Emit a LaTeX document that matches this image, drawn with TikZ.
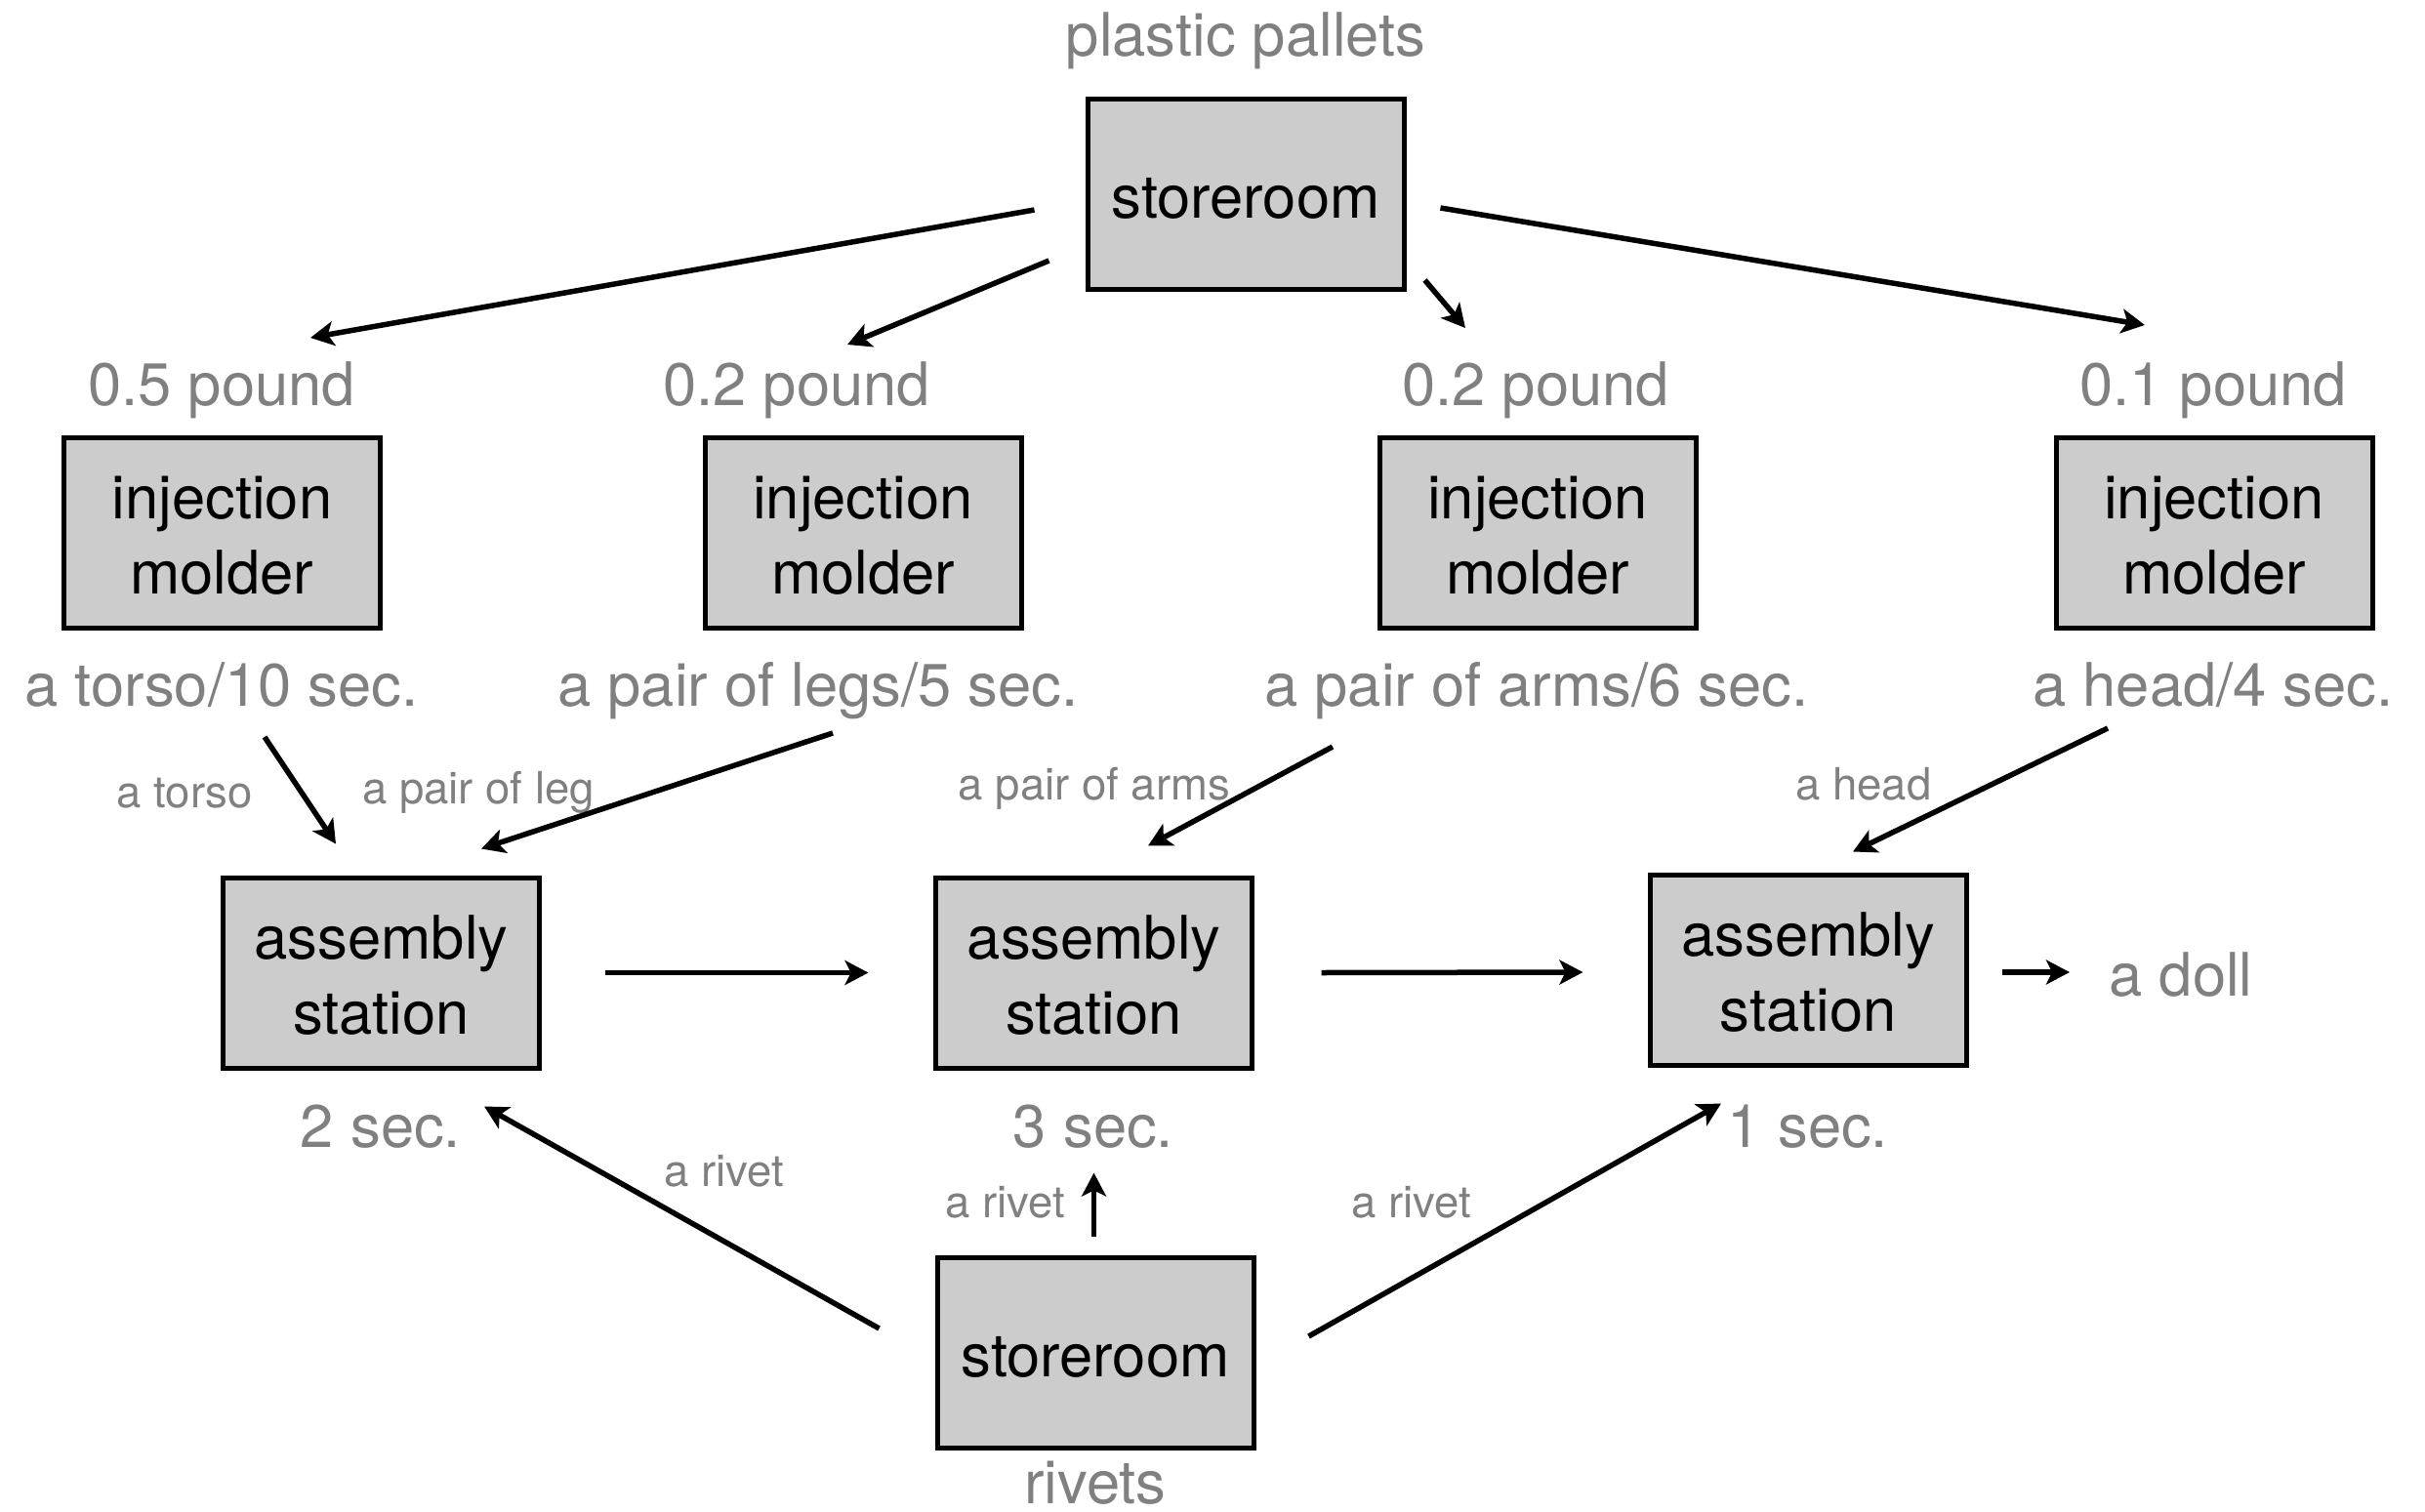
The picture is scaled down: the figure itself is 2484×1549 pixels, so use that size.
\documentclass[tikz,border=0pt]{standalone}
\usepackage{fontspec}
\setmainfont{TeX Gyre Heros}
\usetikzlibrary{arrows.meta,calc}
\definecolor{lblgray}{RGB}{128,128,128}
\definecolor{boxfill}{RGB}{204,204,204}
\newcommand\bxstrut{\rule{0pt}{50pt}}
\begin{document}
\begin{tikzpicture}[x=1pt,y=-1pt,
  box/.style={draw=black,line width=5pt,fill=boxfill,minimum width=324pt,minimum height=195pt,inner sep=0pt,align=center,font=\fontsize{61.5}{77}\selectfont},
  big/.style={text=lblgray,anchor=base,inner sep=0pt,font=\fontsize{61.5}{74}\selectfont},
  small/.style={text=lblgray,anchor=base,inner sep=0pt,font=\fontsize{45.5}{55}\selectfont},
  arr/.style={line width=5.5pt,-{Stealth[length=24pt,width=25pt,inset=6pt]}}]
\useasboundingbox (0,0) rectangle (2484,1549);

% boxes
\node[box] (st) at (1276,199) {\bxstrut storeroom};
\node[box] (m1) at (227.5,545.5) {\bxstrut injection\\molder};
\node[box] (m2) at (884,545.5) {\bxstrut injection\\molder};
\node[box] (m3) at (1575,545.5) {\bxstrut injection\\molder};
\node[box] (m4) at (2268,545.5) {\bxstrut injection\\molder};
\node[box] (a1) at (390.5,996.5) {\bxstrut assembly\\station};
\node[box] (a2) at (1120.5,996.5) {\bxstrut assembly\\station};
\node[box] (a3) at (1852,993.5) {\bxstrut assembly\\station};
\node[box] (sb) at (1122,1386) {\bxstrut storeroom};

% large gray labels
\node[big] (pp) at (1276,58) {plastic pallets};
\node[big] (w1) at (227,415) {0.5 pound};
\node[big] (w2) at (816,415) {0.2 pound};
\node[big] (w3) at (1573,415) {0.2 pound};
\node[big] (w4) at (2267,415) {0.1 pound};
\node[big] (o1) at (227,723) {a torso/10 sec.};
\node[big] (o2) at (838,723) {a pair of legs/5 sec.};
\node[big] (o3) at (1574,723) {a pair of arms/6 sec.};
\node[big] (o4) at (2267,723) {a head/4 sec.};
\node[big] (t1) at (390,1175) {2 sec.};
\node[big] (t2) at (1120,1175) {3 sec.};
\node[big] (t3) at (1852,1175) {1 sec.};
\node[big] (doll) at (2234,1020) {a doll};
\node[big] (rv) at (1122,1540) {rivets};

% small gray labels
\node[small] (lt) at (189,827) {a torso};
\node[small] (ll) at (490,823) {a pair of leg};
\node[small] (la) at (1121,819) {a pair of arms};
\node[small] (lh) at (1909,819) {a head};
\node[small] (r1) at (742,1215) {a rivet};
\node[small] (r2) at (1030,1247) {a rivet};
\node[small] (r3) at (1446,1247) {a rivet};

% storeroom -> molders
\draw[arr] ($(st.west)+(-52,16)$) -- ($(w1.base)+(91,-69)$);
\draw[arr] ($(st.west)+(-37,68)$) -- ($(w2.base)+(52,-62)$);
\draw[arr] ($(st.east)+(19,88)$) -- ($(w3.base)+(-72,-79)$);
\draw[arr] ($(st.east)+(35,14)$) -- ($(w4.base)+(-70,-82)$);

% molders -> assembly
\draw[arr] ($(o1.base)+(44,32)$) -- ($(a1.north)+(-46.5,-32)$);
\draw[arr] ($(o2.base)+(15,28)$) -- ($(a1.north)+(102.5,-27)$);
\draw[arr] ($(o3.base)+(-209,42)$) -- ($(a2.north)+(55.5,-30)$);
\draw[arr] ($(o4.base)+(-108,23)$) -- ($(a3.north)+(46,-21)$);

% assembly chain
\draw[arr] ($(a1.east)+(64.5,0)$) -- ($(a2.west)+(-66.5,0)$);
\draw[arr] ($(a2.east)+(68.5,0)$) -- ($(a3.west)+(-66,2.5)$);
\draw[arr] ($(a3.east)+(34,2.5)$) -- ($(doll.base)+(-114,-24)$);

% rivets
\draw[arr] ($(sb.west)+(-57,-25)$) -- ($(a1.south)+(105.5,37)$);
\draw[arr] ($(sb.north)+(-1.5,-19.5)$) -- ($(a2.south)+(0,105)$);
\draw[arr] ($(sb.east)+(54,-17)$) -- ($(a3.south)+(-89,37)$);
\end{tikzpicture}
\end{document}
